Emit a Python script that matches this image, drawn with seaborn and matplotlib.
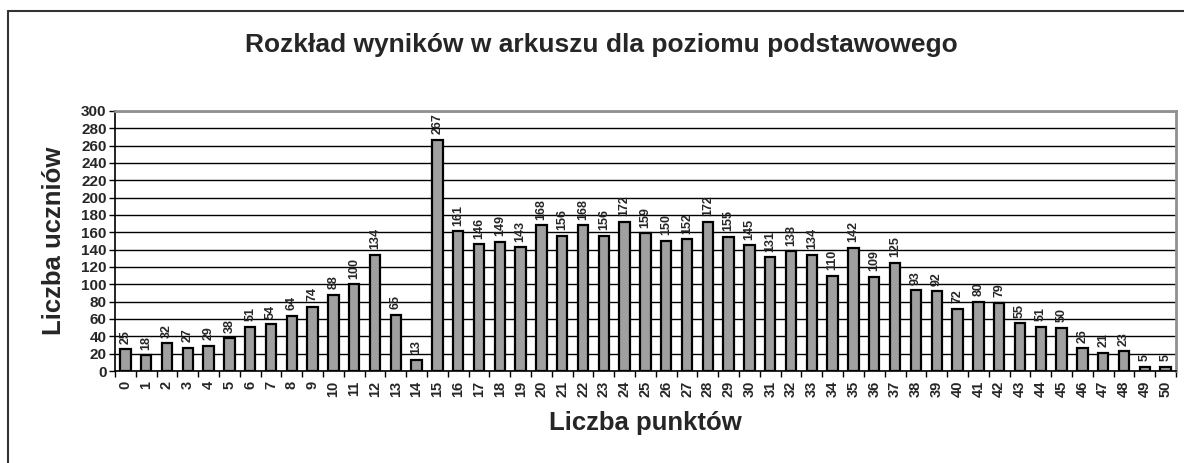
import numpy as np
import pandas as pd
import matplotlib
matplotlib.use("Agg")
import matplotlib.pyplot as plt
from matplotlib.lines import Line2D
import seaborn as sns

points = [str(i) for i in range(51)]
students = [25, 18, 32, 27, 29, 38, 51, 54, 64, 74, 88, 100, 134, 65, 13, 267,
            161, 146, 149, 143, 168, 156, 168, 156, 172, 159, 150, 152, 172, 155,
            145, 131, 138, 134, 110, 142, 109, 125, 93, 92, 72, 80, 79, 55, 51, 50,
            26, 21, 23, 5, 5]
y_ticks = list(range(0, 301, 20))

title = "Rozkład wyników w arkuszu dla poziomu podstawowego"
xlabel = "Liczba punktów"
ylabel = "Liczba uczniów"

sns.set_style("white")
plt.rcParams['font.family'] = ['Liberation Sans', 'DejaVu Sans']

df = pd.DataFrame({"pkt": points, "n": students})

fig = plt.figure(figsize=(11.84, 4.63), dpi=100)
ax = fig.add_axes([0.0971, 0.1987, 0.8961, 0.5616])

sns.barplot(data=df, x="pkt", y="n", order=points, color="#a0a0a0",
            width=0.5, edgecolor="black", linewidth=1.6, saturation=1, ax=ax,
            zorder=3)

ax.bar_label(ax.containers[0], labels=[str(v) for v in students], rotation=90,
             padding=4, fontsize=9, fontweight="bold")

ax.set_ylim(0, 300)
ax.set_xlim(-0.5, len(points) - 0.5)
ax.set_yticks(y_ticks)
ax.set_yticklabels([str(t) for t in y_ticks], fontsize=11, fontweight="bold")
ax.set_xticks(range(len(points)))
ax.set_xticklabels(points, rotation=90, fontsize=10.5, fontweight="bold")
ax.tick_params(axis="x", which="major", length=0, pad=7)
ax.set_xticks(np.arange(-0.5, len(points), 1), minor=True)
ax.tick_params(axis="x", which="minor", length=4, width=1, color="black",
               direction="out", bottom=True)
ax.tick_params(axis="y", length=4, width=1, color="black", direction="out",
               left=True, pad=2)

ax.yaxis.grid(True, color="black", linewidth=1)
ax.set_axisbelow(True)
for s in ["left", "bottom"]:
    ax.spines[s].set_color("black")
    ax.spines[s].set_linewidth(1.2)
for s in ["top", "right"]:
    ax.spines[s].set_color("#909090")
    ax.spines[s].set_linewidth(2)

ax.set_xlabel(xlabel, fontsize=18.5, fontweight="bold", labelpad=10)
ax.set_ylabel(ylabel, fontsize=18.5, fontweight="bold", labelpad=11)
fig.text(0.508, 0.903, title, ha="center", va="center", fontsize=19,
         fontweight="bold")

# outer frame (top and left edges)
fig.add_artist(Line2D([8 / 1184, 1.0], [1 - 11 / 463, 1 - 11 / 463],
                      transform=fig.transFigure, color="#333333", lw=1.5))
fig.add_artist(Line2D([8 / 1184, 8 / 1184], [0, 1 - 11 / 463],
                      transform=fig.transFigure, color="#333333", lw=1.5))

fig.savefig("out.png", dpi=100)
